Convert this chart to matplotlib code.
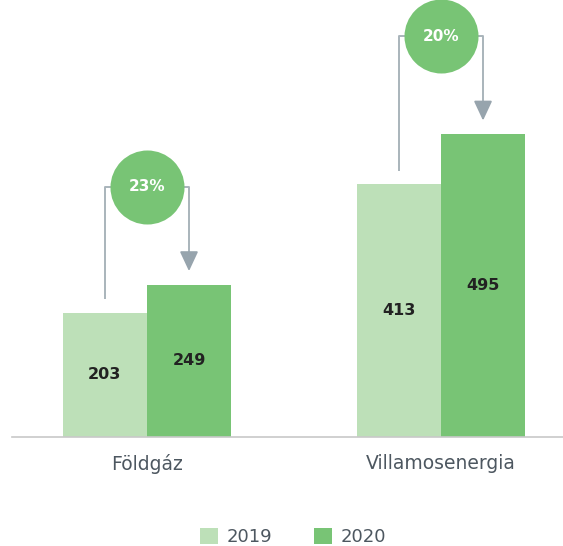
import matplotlib.pyplot as plt
import numpy as np

categories = ['Földgáz', 'Villamosenergia']
years = ['2019', '2020']
values_2019 = [203, 413]
values_2020 = [249, 495]
growth_labels = ['23%', '20%']

light_green = '#bde0b8'
green = '#78c475'
line_grey = '#a9b4bb'

plt.rcParams['font.family'] = ['DejaVu Sans']

fig = plt.figure(figsize=(5.63, 5.46), dpi=100)
ax = fig.add_axes([12 / 563, 109 / 546, 551 / 563, 437 / 546])

x = np.arange(len(categories))
w = 0.286
b1 = ax.bar(x - w / 2, values_2019, width=w, color=light_green, label=years[0])
b2 = ax.bar(x + w / 2, values_2020, width=w, color=green, label=years[1])

# value labels centred in the bars
for bars, vals in [(b1, values_2019), (b2, values_2020)]:
    for rect, v in zip(bars, vals):
        ax.text(rect.get_x() + rect.get_width() / 2, v / 2, str(v),
                ha='center', va='center', fontsize=11.5, fontweight='semibold', color='#222222')

# connectors with arrow and growth bubble
gap = 22
for i in range(len(categories)):
    v0, v1 = values_2019[i], values_2020[i]
    top = v1 + 160
    xl, xr = x[i] - w / 2, x[i] + w / 2
    ax.plot([xl, xl, xr, xr], [v0 + gap, top, top, v1 + gap + 20],
            color=line_grey, lw=1.4, solid_capstyle='butt', zorder=2)
    ax.annotate('', xy=(xr, v1 + gap), xytext=(xr, v1 + gap + 30),
                arrowprops=dict(arrowstyle='-|>,head_length=0.6,head_width=0.28',
                                mutation_scale=20, color='#97a4ad', lw=1.4,
                                shrinkA=0, shrinkB=0), zorder=3)
    ax.scatter([x[i]], [top], s=2840, color=green, zorder=4, linewidths=0)
    ax.text(x[i], top, growth_labels[i], ha='center', va='center', fontsize=11,
            fontweight='bold', color='white', zorder=5)

ax.axhline(0, color='#c8c8c8', lw=1.2, clip_on=False)
ax.set_xlim(-0.459, 1.415)
ax.set_ylim(0, 714)
ax.set_yticks([])
ax.set_xticks(x)
ax.set_xticklabels(categories, fontsize=13.5, color='#4d5760')
ax.tick_params(axis='x', length=0, pad=12)
for spine in ax.spines.values():
    spine.set_visible(False)

fig.legend(loc='lower center', bbox_to_anchor=(293 / 563, -0.03), ncol=2, frameon=False,
           fontsize=13, handlelength=1.0, handleheight=1.0, handletextpad=0.5,
           columnspacing=2.3, labelcolor='#4d5760')

fig.savefig('out.png', dpi=100)
